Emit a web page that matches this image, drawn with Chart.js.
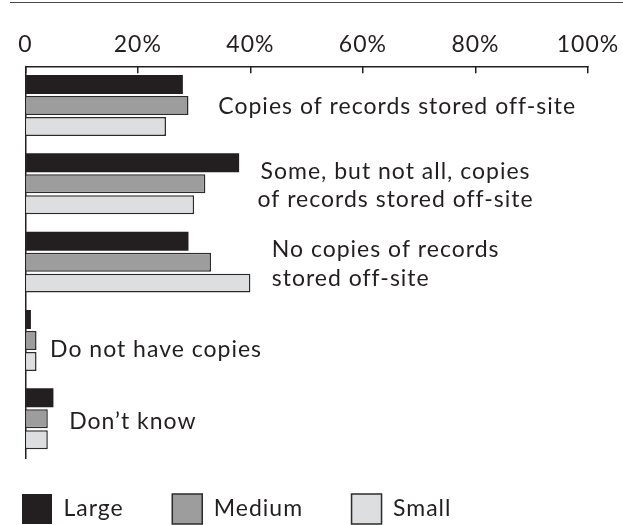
<!DOCTYPE html>
<html>
<head>
<meta charset="utf-8">
<script src="https://cdn.jsdelivr.net/npm/chart.js@4.4.1/dist/chart.umd.min.js"></script>
<style>
  html, body { margin: 0; padding: 0; background: #fff; }
  #wrap { position: relative; width: 623px; height: 525px; }
  #rule { position: absolute; left: 10px; right: 0; top: 2px; border-top: 1.5px solid #4a4a4a; }
</style>
</head>
<body>
<div id="wrap">
  <div id="rule"></div>
  <canvas id="chart" width="623" height="525"></canvas>
</div>
<script>
// ---------- DATA ----------
const categories = [
  ['Copies of records stored off-site'],
  ['Some, but not all, copies', 'of records stored off-site'],
  ['No copies of records', 'stored off-site'],
  ['Do not have copies'],
  ['Don\u2019t know']
];
const seriesNames = ['Large', 'Medium', 'Small'];
const largeValues = [28, 38, 29, 1, 5];
const mediumValues = [29, 32, 33, 2, 4];
const smallValues = [25, 30, 40, 2, 4];
const tickValues = [0, 20, 40, 60, 80, 100];
const tickLabels = ['0', '20%', '40%', '60%', '80%', '100%'];

// ---------- CAPTION LAYOUT ----------
// captions sit beside the bars: x in axis units, dy = first baseline offset from group centre
const captionX = [34.3, 65.8, 43.8, 4.4, 7.8];
const captionDy = [8.3, -5.3, -5, 16.5, 10.5];
const captionAlign = ['left', 'center', 'left', 'left', 'left'];
const CAPTION_LINE = 28.5;

const INK = '#231f20';
const FONT = 'Lato, "Open Sans", sans-serif';
const FONT_SIZE = 23;
const TRACKING = '1px';

// ---------- TEXT TRACKING ----------
// the face runs a little wide, so open up every label on the canvas
const trackingPlugin = {
    id: 'tracking',
    beforeLayout(chart) { chart.ctx.letterSpacing = TRACKING; },
    beforeDraw(chart) { chart.ctx.letterSpacing = TRACKING; }
};

// ---------- CAPTIONS ----------
const captionPlugin = {
    id: 'captions',
    afterDatasetsDraw(chart) {
        const { ctx, scales: { x, y } } = chart;
        ctx.save();
        ctx.font = FONT_SIZE + 'px ' + FONT;
        ctx.fillStyle = INK;
        ctx.textBaseline = 'alphabetic';
        categories.forEach((lines, i) => {
            const cx = x.getPixelForValue(captionX[i]);
            const cy = y.getPixelForValue(i) + captionDy[i];
            ctx.textAlign = captionAlign[i];
            lines.forEach((line, j) => ctx.fillText(line, cx, cy + j * CAPTION_LINE));
        });
        ctx.restore();
    }
};

// ---------- CHART ----------
new Chart(document.getElementById('chart'), {
    type: 'bar',
    data: {
        labels: categories,
        datasets: [
            { label: seriesNames[0], data: largeValues, backgroundColor: INK, borderColor: INK, borderWidth: 0 },
            { label: seriesNames[1], data: mediumValues, backgroundColor: '#9d9d9d', borderColor: '#2b2b2b', borderWidth: 1.5 },
            { label: seriesNames[2], data: smallValues, backgroundColor: '#dddee0', borderColor: '#2b2b2b', borderWidth: 1.5 }
        ]
    },
    options: {
        indexAxis: 'y',
        responsive: false,
        animation: false,
        devicePixelRatio: 1,
        datasets: { bar: { categoryPercentage: 0.803, barPercentage: 0.905 } },
        layout: { padding: { left: -14, right: 35, top: 15.7, bottom: -9 } },
        scales: {
            x: {
                position: 'top',
                min: 0,
                max: 100,
                ticks: {
                    stepSize: 20,
                    padding: 15,
                    maxRotation: 0,
                    color: INK,
                    font: { family: FONT, size: FONT_SIZE },
                    callback: v => tickLabels[tickValues.indexOf(v)]
                },
                grid: { drawOnChartArea: false, drawTicks: true, tickLength: -7, color: INK, lineWidth: 1.5 },
                border: { display: true, color: INK, width: 1.5 },
                // end labels may overhang; the layout padding already leaves room
                afterFit: s => { s.paddingLeft = 0; s.paddingRight = 0; }
            },
            y: {
                ticks: { display: false },
                grid: { display: false },
                border: { display: true, color: INK, width: 1.5 },
                afterFit: s => { s.width = 39.3; }
            }
        },
        plugins: {
            legend: {
                position: 'bottom',
                align: 'start',
                labels: {
                    boxWidth: 30,
                    boxHeight: 30,
                    padding: 36,
                    color: INK,
                    font: { family: FONT, size: FONT_SIZE },
                    generateLabels: chart => {
                        const items = Chart.defaults.plugins.legend.labels.generateLabels(chart);
                        items.forEach((it, i) => { if (i < items.length - 1) it.text += '\u2002'; });
                        return items;
                    }
                }
            },
            tooltip: { enabled: false }
        }
    },
    plugins: [trackingPlugin, captionPlugin]
});
</script>
</body>
</html>
